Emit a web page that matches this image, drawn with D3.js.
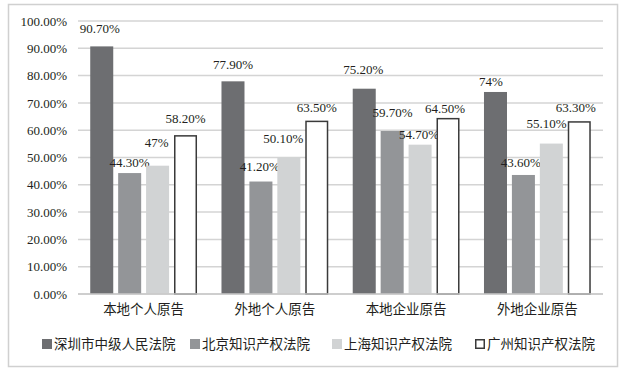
<!DOCTYPE html>
<html>
<head>
<meta charset="utf-8">
<script src="https://cdn.jsdelivr.net/npm/d3@7"></script>
<style>
  html, body { margin: 0; padding: 0; background: #fff; }
  svg { display: block; }
  text { font-family: "Liberation Serif", "Times New Roman", "Noto Sans CJK SC", serif; fill: #231f20; }
</style>
</head>
<body>
<svg id="chart" width="629" height="373"></svg>
<script>
// ---- data ----
const categories = ["本地个人原告", "外地个人原告", "本地企业原告", "外地企业原告"];
const seriesNames = ["深圳市中级人民法院", "北京知识产权法院", "上海知识产权法院", "广州知识产权法院"];
const shenzhen  = [90.7, 77.9, 75.2, 74];
const beijing   = [44.3, 41.2, 59.7, 43.6];
const shanghai  = [47, 50.1, 54.7, 55.1];
const guangzhou = [58.2, 63.5, 64.5, 63.3];
const yTicks = [0, 10, 20, 30, 40, 50, 60, 70, 80, 90, 100];

// ---- styles (kept apart from data) ----
const colors = ["#6d6e71", "#939598", "#d1d3d4", "#ffffff"];
const strokes = [null, null, null, "#3a3a3a"];
// manual label nudges [dx, gap above bar] per series, per category
const labelNudge = [
  [[-2, 13], [0, 12], [-1, 15], [-4.5, 6]],
  [[0, 6], [-1, 11], [0.5, 14], [-2.5, 8]],
  [[-1, 19], [-5.5, 14], [-1, 5.5], [-4.7, 16]],
  [[0, 12], [0, 9], [-3, 5], [-3.5, 9]]
];

const seriesValues = [shenzhen, beijing, shanghai, guangzhou];
const svg = d3.select("#chart");

// outer frame
svg.append("rect").attr("x", 8.5).attr("y", 4.5).attr("width", 609).attr("height", 362)
  .attr("fill", "#fff").attr("stroke", "#d0d0d0").attr("stroke-width", 1.5);

const plotL = 78, plotR = 603, plotT = 21, plotB = 294;
const x0 = d3.scaleBand().domain(categories).range([plotL, plotR]).padding(0);
const x1 = d3.scaleBand().domain(d3.range(seriesNames.length)).range([0, x0.bandwidth()])
  .paddingInner(0.176).paddingOuter(0.438);
const y = d3.scaleLinear().domain([0, 100]).range([plotB, plotT]);

// gridlines
svg.append("g").selectAll("line").data(yTicks).join("line")
  .attr("x1", plotL).attr("x2", plotR)
  .attr("y1", d => y(d)).attr("y2", d => y(d))
  .attr("stroke", "#d4d4d4").attr("stroke-width", 1.5);

// y axis labels
const yAxis = d3.axisLeft(y).tickValues(yTicks).tickSize(0).tickPadding(11)
  .tickFormat(d => d3.format(".2f")(d) + "%");
const gy = svg.append("g").attr("transform", `translate(${plotL},0)`).call(yAxis);
gy.select(".domain").remove();
gy.selectAll("text").attr("font-size", 13).attr("fill", "#231f20")
  .style("font-family", "'Liberation Serif', serif");

// bars
const groups = svg.append("g").selectAll("g").data(seriesValues).join("g");
groups.each(function(vals, si) {
  const s = strokes[si] ? 0.75 : 0;
  d3.select(this).selectAll("rect").data(vals).join("rect")
    .attr("x", (d, ci) => x0(categories[ci]) + x1(si) + s)
    .attr("y", d => y(d) + s)
    .attr("width", x1.bandwidth() - 2 * s)
    .attr("height", d => plotB - y(d) - s)
    .attr("fill", colors[si])
    .attr("stroke", strokes[si] || "none")
    .attr("stroke-width", 1.5);
});

// value labels
const fmt = v => Number.isInteger(v) ? v + "%" : v.toFixed(2) + "%";
groups.each(function(vals, si) {
  d3.select(this).selectAll("text").data(vals).join("text")
    .attr("x", (d, ci) => x0(categories[ci]) + x1(si) + x1.bandwidth() / 2 + labelNudge[si][ci][0])
    .attr("y", (d, ci) => y(d) - labelNudge[si][ci][1])
    .attr("text-anchor", "middle")
    .attr("font-size", 13)
    .text(d => fmt(d));
});

// x axis baseline
svg.append("line").attr("x1", plotL).attr("x2", plotR).attr("y1", plotB).attr("y2", plotB)
  .attr("stroke", "#c8c8c8").attr("stroke-width", 1.5);

// category labels
const xAxis = d3.axisBottom(x0).tickSize(0).tickPadding(10);
const gx = svg.append("g").attr("transform", `translate(0,${plotB})`).call(xAxis);
gx.select(".domain").remove();
gx.selectAll("text").attr("font-size", 13.5).attr("fill", "#231f20")
  .style("font-family", "'Noto Sans CJK SC', sans-serif");

// legend
const legendX = [42, 190, 332, 475];
const legend = svg.append("g").selectAll("g").data(seriesNames).join("g")
  .attr("transform", (d, i) => `translate(${legendX[i]},339)`);
legend.append("rect")
  .attr("x", (d, i) => strokes[i] ? 0.75 : 0).attr("y", (d, i) => strokes[i] ? 0.75 : 0)
  .attr("width", (d, i) => strokes[i] ? 8.5 : 10).attr("height", (d, i) => strokes[i] ? 8.5 : 10)
  .attr("fill", (d, i) => colors[i])
  .attr("stroke", (d, i) => strokes[i] || "none").attr("stroke-width", 1.5);
legend.append("text")
  .attr("x", 12).attr("y", 5).attr("dy", "0.35em")
  .attr("font-size", 13.5)
  .style("font-family", "'Noto Sans CJK SC', sans-serif")
  .text(d => d);
</script>
</body>
</html>
